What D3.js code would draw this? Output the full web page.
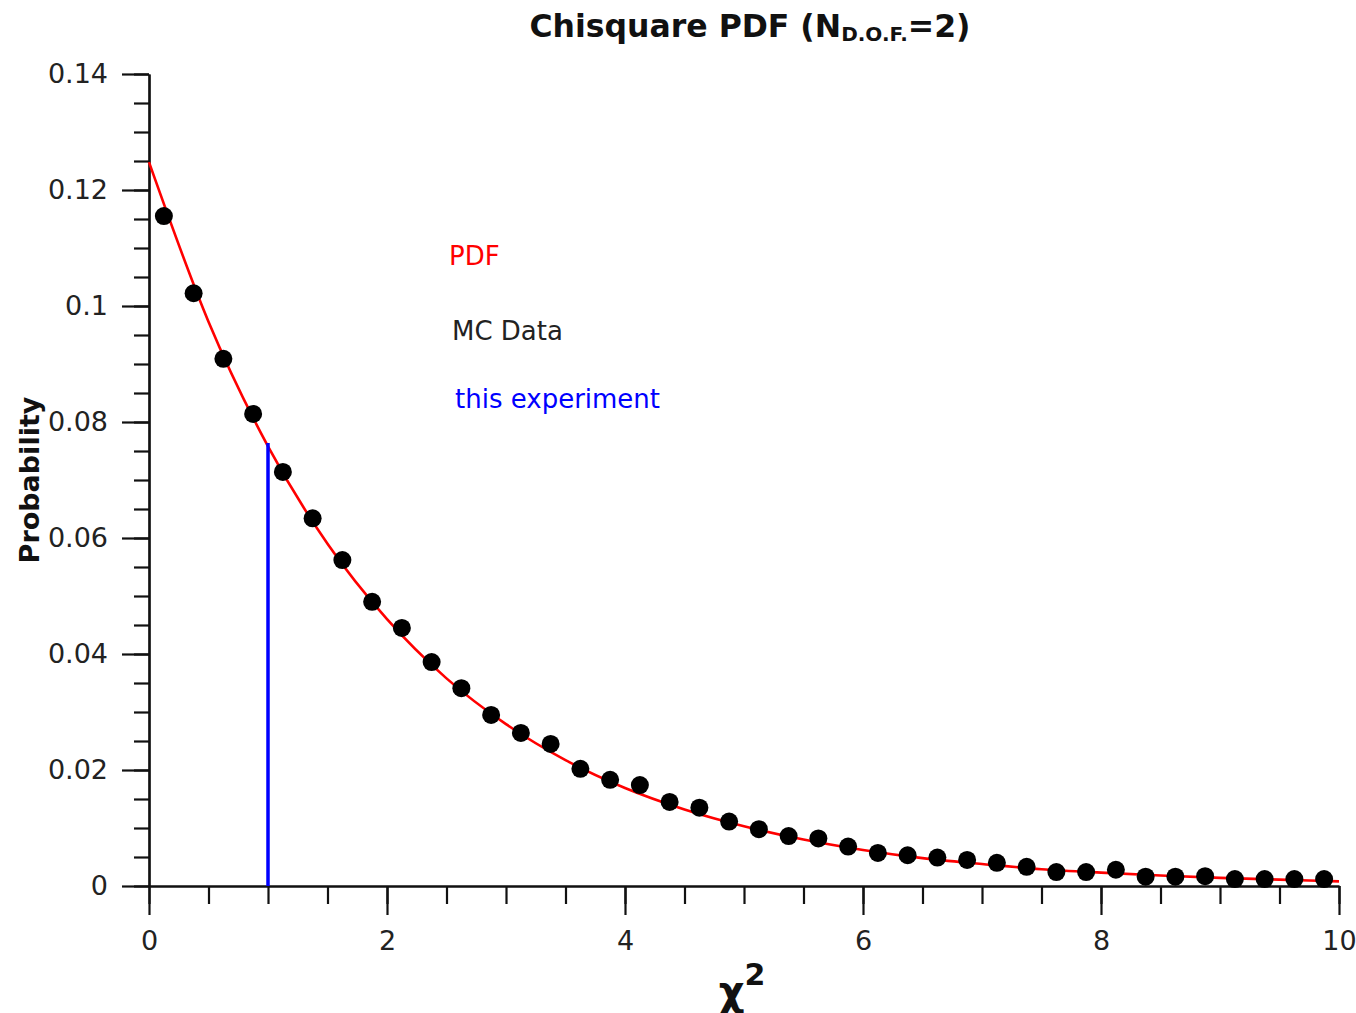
<!DOCTYPE html>
<html>
<head>
<meta charset="utf-8">
<script src="https://cdn.jsdelivr.net/npm/d3@7"></script>
<style>
  body { margin: 0; background: #fff; }
  text { font-family: "DejaVu Sans", Verdana, sans-serif; }
</style>
</head>
<body>
<div id="chart-area"></div>
<script>
// bin centres of the MC histogram (bin width 0.25)
const binCenters = d3.range(40).map(i => 0.125 + i * 0.25);
// MC data
const mcValues = [
  0.1155, 0.1022, 0.0909, 0.0814, 0.0714, 0.0634, 0.0562, 0.0490, 0.0445, 0.0386,
  0.0341, 0.0295, 0.0264, 0.0245, 0.0202, 0.0183, 0.0174, 0.0145, 0.0135, 0.0111,
  0.0098, 0.0086, 0.0082, 0.0068, 0.0057, 0.0053, 0.0049, 0.0045, 0.0040, 0.0033,
  0.0024, 0.0024, 0.0028, 0.0016, 0.0016, 0.0017, 0.0012, 0.0012, 0.0012, 0.0012
];
// PDF curve sampled every 0.5
const pdfX = [0, 0.5, 1, 1.5, 2, 2.5, 3, 3.5, 4, 4.5, 5, 5.5, 6, 6.5, 7, 7.5, 8, 8.5, 9, 9.5, 10];
const pdfY = [0.1248, 0.0973, 0.0758, 0.0590, 0.0460, 0.0358, 0.0279, 0.0217, 0.0169, 0.0132,
              0.0103, 0.0080, 0.0062, 0.0048, 0.0038, 0.0029, 0.0023, 0.0018, 0.0014, 0.0011, 0.0008];
// this experiment
const experimentChi2 = 1;
const experimentProb = 0.0764;

const xMajor = [0, 2, 4, 6, 8, 10];
const xLabels = ["0", "2", "4", "6", "8", "10"];
const yMajor = [0, 0.02, 0.04, 0.06, 0.08, 0.10, 0.12, 0.14];
const yLabels = ["0", "0.02", "0.04", "0.06", "0.08", "0.1", "0.12", "0.14"];

const legendItems = ["PDF", "MC Data", "this experiment"];
const legendColors = ["#ff0000", "#222222", "#0000ff"];

const svg = d3.select("#chart-area").append("svg")
    .attr("width", 1356)
    .attr("height", 1013);

const x = d3.scaleLinear().domain([0, 10]).range([149, 1339]);
const y = d3.scaleLinear().domain([0, 0.14]).range([886, 74]);

// minor ticks first, then major axis with labels
svg.append("g")
    .attr("transform", "translate(149,0)")
    .call(d3.axisLeft(y).tickValues(d3.range(0, 0.1401, 0.005)).tickSize(15).tickSizeOuter(0).tickFormat(""));
svg.append("g")
    .attr("class", "yaxis")
    .attr("transform", "translate(149,0)")
    .call(d3.axisLeft(y).tickValues(yMajor).tickSize(27).tickSizeOuter(0).tickPadding(14)
        .tickFormat((d, i) => yLabels[i]));

svg.append("g")
    .attr("transform", "translate(0,886)")
    .call(d3.axisBottom(x).tickValues(d3.range(0, 10.01, 0.5)).tickSize(18).tickSizeOuter(0).tickFormat(""));
svg.append("g")
    .attr("class", "xaxis")
    .attr("transform", "translate(0,886)")
    .call(d3.axisBottom(x).tickValues(xMajor).tickSize(29).tickSizeOuter(0).tickPadding(16)
        .tickFormat((d, i) => xLabels[i]));

svg.selectAll(".domain, .tick line").attr("stroke", "#111").attr("stroke-width", 2.2);
svg.selectAll(".tick text").attr("font-size", 27).attr("fill", "#222");

// PDF curve
const line = d3.line().x(d => x(d[0])).y(d => y(d[1])).curve(d3.curveMonotoneX);
svg.append("path")
    .datum(pdfX.map((v, i) => [v, pdfY[i]]))
    .attr("d", line)
    .attr("fill", "none")
    .attr("stroke", "#ff0000")
    .attr("stroke-width", 2.6);

// MC points
svg.selectAll("circle.mc")
    .data(mcValues)
    .enter().append("circle")
    .attr("class", "mc")
    .attr("cx", (d, i) => x(binCenters[i]))
    .attr("cy", d => y(d))
    .attr("r", 9)
    .attr("fill", "#000");

// this experiment
svg.append("line")
    .attr("x1", x(experimentChi2)).attr("x2", x(experimentChi2))
    .attr("y1", y(0)).attr("y2", y(experimentProb))
    .attr("stroke", "#0000ff")
    .attr("stroke-width", 3.5);

// legend
svg.selectAll("text.legend")
    .data(legendItems)
    .enter().append("text")
    .attr("class", "legend")
    .attr("x", (d, i) => 449 + i * 3)
    .attr("y", (d, i) => [265, 340, 408][i])
    .attr("font-size", 26)
    .attr("fill", (d, i) => legendColors[i])
    .text(d => d);

// title
const title = svg.append("text")
    .attr("x", 750).attr("y", 37)
    .attr("text-anchor", "middle")
    .attr("font-size", 31.5)
    .attr("font-weight", "bold")
    .attr("fill", "#111");
title.append("tspan").text("Chisquare PDF (N");
title.append("tspan").attr("font-size", 20).attr("dy", 4).text("D.O.F.");
title.append("tspan").attr("dy", -4).text("=2)");

// axis titles
const xt = svg.append("text")
    .attr("x", 742).attr("y", 1005)
    .attr("text-anchor", "middle")
    .attr("font-size", 40)
    .attr("font-weight", "bold")
    .attr("fill", "#111");
xt.append("tspan").text("χ");
xt.append("tspan").attr("font-size", 30).attr("dy", -20).text("2");

svg.append("text")
    .attr("transform", "translate(39,480) rotate(-90)")
    .attr("text-anchor", "middle")
    .attr("font-size", 27)
    .attr("font-weight", "bold")
    .attr("fill", "#111")
    .text("Probability");
</script>
</body>
</html>
